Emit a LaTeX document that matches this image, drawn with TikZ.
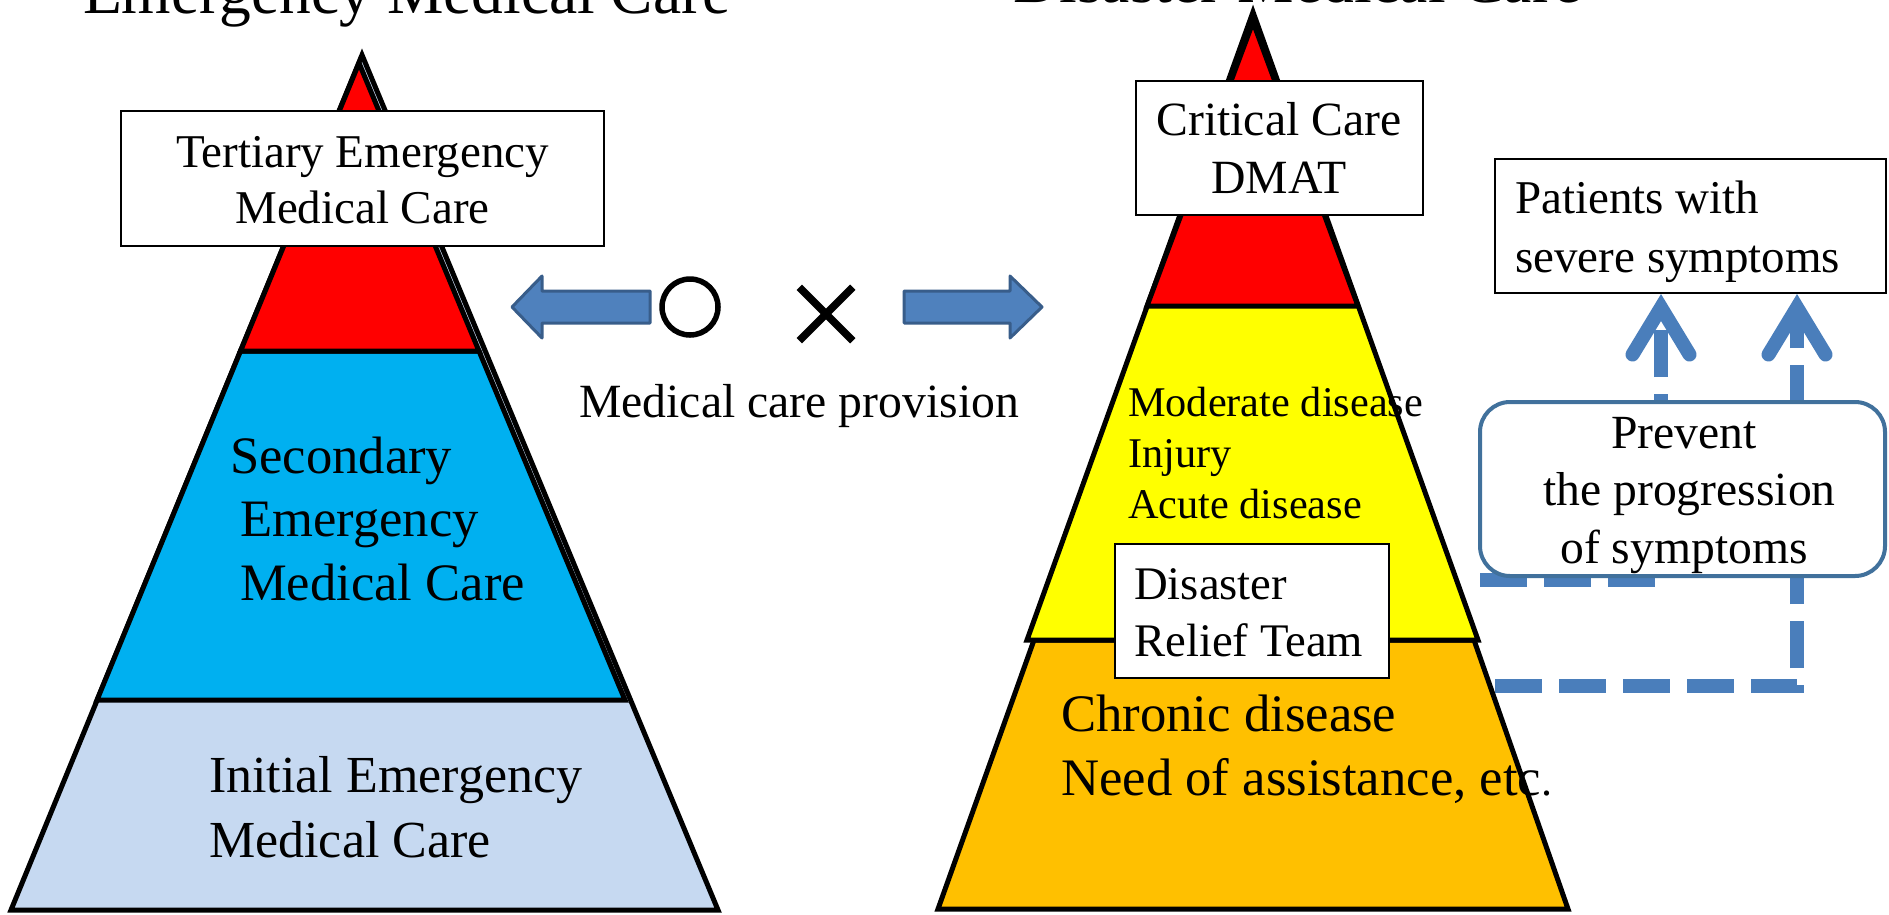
\documentclass[tikz,border=0pt]{standalone}
\usepackage{fontspec}
\setmainfont{Liberation Serif}
\usetikzlibrary{arrows.meta,shapes.misc}

\definecolor{initialfill}{HTML}{C6D9F1}
\definecolor{secondfill}{HTML}{00B0F0}
\definecolor{topred}{HTML}{FF0000}
\definecolor{midyellow}{HTML}{FFFF00}
\definecolor{baseorange}{HTML}{FFC000}
\definecolor{arrowfill}{HTML}{4F81BD}
\definecolor{arrowedge}{HTML}{385D8A}
\definecolor{flowblue}{HTML}{4A7EBB}
\definecolor{roundedge}{HTML}{41719C}

% several lines of text; the node's base is the first line's baseline
\newcommand{\txtlines}[2]{\begin{tabular}[t]{@{}#1@{}}#2\end{tabular}}

\begin{document}
\begin{tikzpicture}[x=1pt,y=-1pt,
  tier/.style={draw=black,line width=5pt,line join=miter},
  labelbox/.style={draw=black,fill=white,line width=2pt,inner sep=0pt},
  txt/.style={inner sep=0pt,anchor=base west},
  blockarrow/.style={fill=arrowfill,draw=arrowedge,line width=3pt,line join=round},
  flow/.style={draw=flowblue,line width=14pt,dash pattern=on 47pt off 17pt,
    -{Straight Barb[length=47pt,width=57pt,line cap=round,line join=miter]}},
]
\useasboundingbox (0,0) rectangle (1889,914);
\fill[white] (0,0) rectangle (1889,914);

% ---------- emergency medical care pyramid ----------
\draw[tier,fill=initialfill] (362,55) -- (718,910) -- (11,910) -- cycle;
\draw[tier,fill=secondfill] (240.5,351) -- (479,351) -- (625,700) -- (97,700) -- cycle;
\draw[tier,fill=topred] (359,63) -- (479,351) -- (240.5,351) -- cycle;

\node[txt,anchor=base,font=\fontsize{63.5}{76}\selectfont] (titleleft) at (407,13) {Emergency Medical Care};

\node[labelbox,minimum width=483pt,minimum height=135pt] (tert) at (362.5,178.5) {};
\node[txt,anchor=base,font=\fontsize{47}{56}\selectfont] (tertlbl) at (362.5,167)
  {\txtlines{c}{Tertiary Emergency\\Medical Care}};

\node[txt,font=\fontsize{52.6}{63.5}\selectfont] (secondlbl) at (230,473)
  {\txtlines{l}{Secondary\\\hspace*{10pt}Emergency\\\hspace*{10pt}Medical Care}};

\node[txt,font=\fontsize{52}{65}\selectfont] (initiallbl) at (209,792)
  {\txtlines{l}{Initial Emergency\\Medical Care}};

% ---------- provision arrows ----------
\draw[blockarrow] (512,307) -- (542,276) -- (542,291) -- (650,291) -- (650,323)
  -- (542,323) -- (542,338) -- cycle;
\draw[blockarrow] (1042,307) -- (1010,276) -- (1010,291) -- (904,291) -- (904,323)
  -- (1010,323) -- (1010,338) -- cycle;
\node[circle,draw=black,line width=5.5pt,minimum size=56pt,inner sep=0pt] (okmark) at (690,307) {};
\node[cross out,draw=black,line width=7.5pt,minimum size=46pt,inner sep=0pt] (ngmark) at (826,314) {};
\node[txt,font=\fontsize{47.7}{57}\selectfont] (provision) at (579,417) {Medical care provision};

% ---------- disaster medical care pyramid ----------
\draw[tier,fill=baseorange] (1034,640) -- (1474,640) -- (1568,909) -- (938,909) -- cycle;
\draw[tier,fill=midyellow] (1253,12) -- (1478,640) -- (1027,640) -- cycle;
\draw[tier,fill=topred] (1253,22) -- (1358,306) -- (1147,306) -- cycle;

\node[txt,anchor=base,font=\fontsize{63.5}{76}\selectfont] (titleright) at (1297.5,2) {Disaster Medical Care};

\node[labelbox,minimum width=287pt,minimum height=134pt] (crit) at (1279.5,148) {};
\node[txt,anchor=base,font=\fontsize{47.7}{58}\selectfont] (critlbl) at (1279,135)
  {\txtlines{c}{Critical Care\\DMAT}};

\node[txt,font=\fontsize{42.3}{51}\selectfont] (moderatelbl) at (1128,416)
  {\txtlines{l}{Moderate disease\\Injury\\Acute disease}};

\node[labelbox,minimum width=274pt,minimum height=134pt] (relief) at (1252,611) {};
\node[txt,font=\fontsize{46.7}{57}\selectfont] (relieflbl) at (1134,599)
  {\txtlines{l}{Disaster\\Relief Team}};

\node[txt,font=\fontsize{52.7}{64}\selectfont] (chroniclbl) at (1061,731)
  {\txtlines{l}{Chronic disease\\Need of assistance, etc{\fontsize{44}{50}\selectfont .}}};

% ---------- severe patients and prevention ----------
\node[labelbox,minimum width=391pt,minimum height=134pt] (pat) at (1690.5,226) {};
\node[txt,font=\fontsize{47}{59}\selectfont] (patlbl) at (1515,213)
  {\txtlines{l}{Patients with\\severe symptoms}};

\coordinate (flowAstart) at (1480,580);
\coordinate (flowAbend) at (1661,580);
\coordinate (flowBstart) at (1495,686);
\coordinate (flowBbend) at (1797,686);
\draw[flow] (flowAstart) -- (flowAbend) -- (flowAbend |- pat.south);
\draw[flow] (flowBstart) -- (flowBbend) -- (flowBbend |- pat.south);

\node[draw=roundedge,fill=white,line width=4pt,rounded corners=30pt,
  minimum width=405pt,minimum height=174pt,inner sep=0pt] (prevent) at (1682.5,489) {};
\node[txt,anchor=base,font=\fontsize{47.6}{57.5}\selectfont] (preventlbl) at (1684,448)
  {\txtlines{c}{Prevent\\\hspace*{11pt}the progression\\of symptoms}};
\end{tikzpicture}
\end{document}
